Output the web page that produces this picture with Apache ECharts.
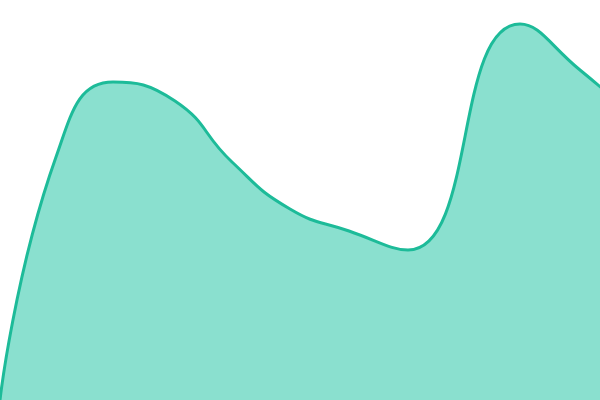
<!DOCTYPE html>
<html>
<head>
<meta charset="utf-8">
<script src="https://cdn.jsdelivr.net/npm/echarts@6/dist/echarts.min.js"></script>
<style>
  html, body { margin: 0; padding: 0; background: #fff; }
  #ec { width: 600px; height: 400px; }
</style>
</head>
<body>
<div id="ec"></div>
<script>
// 横坐标(不等距) + 数值
var xValues = [0, 56, 113, 175, 232, 290, 349, 408, 520, 580, 640];
var yValues = [0, 243, 318, 299, 238, 191, 169, 150, 376, 330, 278];

var ec = echarts.init(document.getElementById('ec'));

// 组装数据
var seriesData = xValues.map(function(x, i) {
  return [x, yValues[i]];
});

var option = {
  animation: false,
  grid: { left: 0, right: 0, top: 0, bottom: 0 },
  xAxis: {
    type: 'value',
    min: 0,
    max: 600,
    show: false
  },
  yAxis: {
    type: 'value',
    min: 0,
    max: 400,
    show: false
  },
  series: [{
    type: 'line',
    smooth: true,
    symbol: 'none',
    lineStyle: { color: '#1dbb99', width: 3 },
    areaStyle: { color: '#8ae0cf', opacity: 1 },
    data: seriesData
  }]
};
ec.setOption(option);
</script>
</body>
</html>
